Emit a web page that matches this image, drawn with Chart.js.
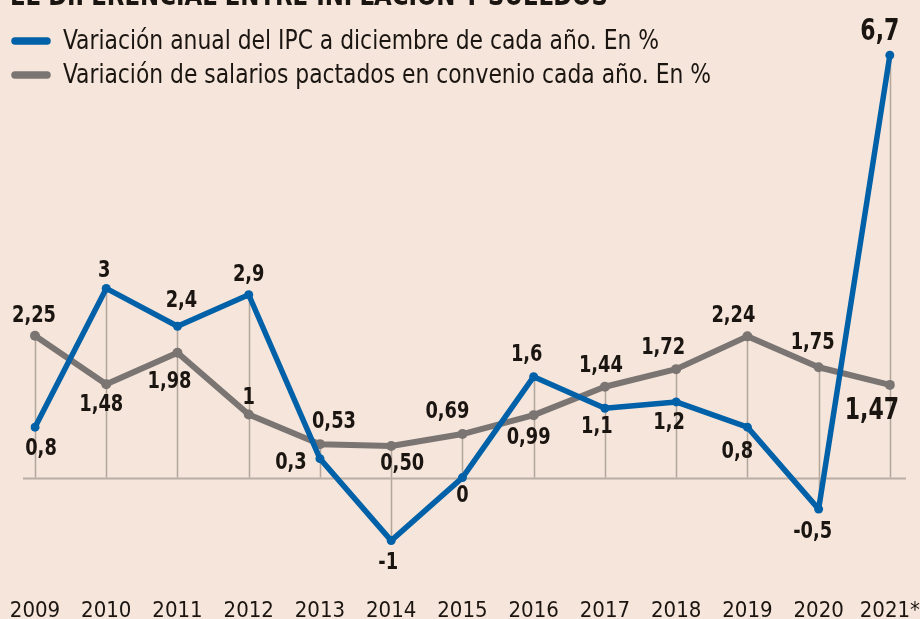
<!DOCTYPE html>
<html>
<head>
<meta charset="utf-8">
<script src="https://cdn.jsdelivr.net/npm/chart.js@4.4.1/dist/chart.umd.min.js"></script>
<style>
  html, body { margin: 0; padding: 0; background: #f5e5da; }
  #wrap { width: 920px; height: 619px; position: relative; }
  canvas { display: block; }
</style>
</head>
<body>
<div id="wrap"><canvas id="c" width="920" height="619"></canvas></div>
<script>
// ---- data ----
const years = ['2009','2010','2011','2012','2013','2014','2015','2016','2017','2018','2019','2020','2021*'];
const ipc = [0.8, 3, 2.4, 2.9, 0.3, -1, 0, 1.6, 1.1, 1.2, 0.8, -0.5, 6.7];
const salarios = [2.25, 1.48, 1.98, 1, 0.53, 0.50, 0.69, 0.99, 1.44, 1.72, 2.24, 1.75, 1.47];
const ipcLabels = ['0,8','3','2,4','2,9','0,3','-1','0','1,6','1,1','1,2','0,8','-0,5','6,7'];
const salLabels = ['2,25','1,48','1,98','1','0,53','0,50','0,69','0,99','1,44','1,72','2,24','1,75','1,47'];
const seriesNames = ['Variación anual del IPC a diciembre de cada año. En %',
                     'Variación de salarios pactados en convenio cada año. En %'];
const titleText = 'EL DIFERENCIAL ENTRE INFLACIÓN Y SUELDOS';

// ---- styles ----
const BLUE = '#0061a8', GRAY = '#7a7573', INK = '#1b1511', BG = '#f5e5da', RULE = '#b3a69d';

function hasFont(name) {
  const c = document.createElement('canvas').getContext('2d');
  const t = 'abcdefghijklmnopqrstuvwxyz0123456789';
  let diff = false;
  ['monospace', 'serif'].forEach(fb => {
    c.font = '20px ' + fb; const a = c.measureText(t).width;
    c.font = "20px '" + name + "', " + fb; const b = c.measureText(t).width;
    if (a !== b) diff = true;
  });
  return diff;
}
const candidates = ['Liberation Sans Narrow', 'DejaVu Sans Condensed', 'Roboto Condensed', 'Roboto'];
const picked = candidates.find(hasFont) || 'sans-serif';
const COND = "'" + picked + "', sans-serif";

const ipcOff = [[6,22],[-2,-17],[4,-25],[0,-20],[-29,4],[-3,22],[0,18],[-7,-22],[-8,19],[-7,21],[-10,25],[-6,23],[-10,-23]];
const salOff = [[-1,-20],[-5,21],[-8,29],[0,-16],[14,-22],[11,18],[-15,-22],[-5,23],[-4,-21],[-13,-21],[-14,-20],[-6,-24],[-18,26]];

// draw text squeezed horizontally by factor fx
function squeezeText(ctx, txt, x, y, fx, align) {
  ctx.save();
  ctx.translate(x, y);
  ctx.scale(fx, 1);
  ctx.textAlign = align || 'center';
  ctx.fillText(txt, 0, 0);
  ctx.restore();
}

const decor = {
  id: 'decor',
  beforeDraw(chart) {
    const ctx = chart.ctx;
    ctx.save();
    ctx.fillStyle = BG;
    ctx.fillRect(0, 0, chart.width, chart.height);
    ctx.restore();
  },
  beforeDatasetsDraw(chart) {
    const ctx = chart.ctx, x = chart.scales.x, y = chart.scales.y;
    ctx.save();
    ctx.strokeStyle = RULE;
    ctx.lineWidth = 1.5;
    years.forEach((yr, i) => {
      const top = Math.max(ipc[i], salarios[i], 0);
      const bot = Math.min(ipc[i], salarios[i], 0);
      const px = Math.round(x.getPixelForValue(i)) + 0.5;
      ctx.beginPath();
      ctx.moveTo(px, y.getPixelForValue(top));
      ctx.lineTo(px, y.getPixelForValue(bot));
      ctx.stroke();
    });
    const y0 = Math.round(y.getPixelForValue(0)) + 0.5;
    ctx.strokeStyle = '#b9ada4';
    ctx.lineWidth = 2;
    ctx.beginPath();
    ctx.moveTo(23, y0);
    ctx.lineTo(906, y0);
    ctx.stroke();
    ctx.restore();
  },
  afterDatasetsDraw(chart) {
    const ctx = chart.ctx, x = chart.scales.x, y = chart.scales.y;
    ctx.save();
    ctx.fillStyle = INK;
    ctx.textBaseline = 'middle';

    // squeeze factors so glyphs match the narrow reference face
    ctx.font = 'bold 23px ' + COND;
    const fxSmall = Math.min(1, 44 / ctx.measureText('2,25').width);
    ctx.font = 'bold 31px ' + COND;
    const fxBig = Math.min(1, 39 / ctx.measureText('6,7').width);

    const draw = (vals, labs, offs) => {
      vals.forEach((v, i) => {
        const big = i === vals.length - 1;
        ctx.font = 'bold ' + (big ? 31 : 23) + 'px ' + COND;
        squeezeText(ctx, labs[i], x.getPixelForValue(i) + offs[i][0],
                    y.getPixelForValue(v) + offs[i][1], big ? fxBig : fxSmall);
      });
    };
    draw(ipc, ipcLabels, ipcOff);
    draw(salarios, salLabels, salOff);

    // title (cropped at top)
    ctx.textBaseline = 'alphabetic';
    ctx.font = 'bold 28px ' + COND;
    const fxT = Math.min(1, 598 / ctx.measureText(titleText).width);
    squeezeText(ctx, titleText, 10, 5, fxT, 'left');

    // legend
    const colors = [BLUE, GRAY];
    const ly = [41, 75];
    const lw = [596, 648];
    ctx.font = '26px ' + COND;
    for (let k = 0; k < 2; k++) {
      ctx.strokeStyle = colors[k];
      ctx.lineWidth = 7.5;
      ctx.lineCap = 'round';
      ctx.beginPath();
      ctx.moveTo(15, ly[k]);
      ctx.lineTo(47, ly[k]);
      ctx.stroke();
      const fx = Math.min(1, lw[k] / ctx.measureText(seriesNames[k]).width);
      squeezeText(ctx, seriesNames[k], 63, ly[k] + 8, fx, 'left');
    }
    ctx.restore();
  }
};

new Chart(document.getElementById('c'), {
  type: 'line',
  data: {
    labels: years,
    datasets: [
      { label: seriesNames[0], data: ipc, borderColor: BLUE, backgroundColor: BLUE,
        borderWidth: 5.5, pointRadius: 4.5, pointBorderWidth: 0, pointBackgroundColor: BLUE,
        tension: 0, borderJoinStyle: 'round', borderCapStyle: 'round' },
      { label: seriesNames[1], data: salarios, borderColor: GRAY, backgroundColor: GRAY,
        borderWidth: 6, pointRadius: 5, pointBorderWidth: 0, pointBackgroundColor: GRAY,
        tension: 0, borderJoinStyle: 'round', borderCapStyle: 'round' }
    ]
  },
  options: {
    responsive: false,
    animation: false,
    devicePixelRatio: 1,
    layout: { padding: { left: 35, right: 29, top: 0, bottom: -5 } },
    plugins: { legend: { display: false }, tooltip: { enabled: false }, title: { display: false } },
    scales: {
      x: {
        offset: false,
        grid: { display: false, drawTicks: false },
        border: { display: false },
        ticks: { color: INK, font: { family: COND, size: 22, lineHeight: 1.2 }, padding: 0, maxRotation: 0, autoSkip: false }
      },
      y: {
        display: false,
        min: -1.904,
        max: 7.496
      }
    }
  },
  plugins: [decor]
});
</script>
</body>
</html>
